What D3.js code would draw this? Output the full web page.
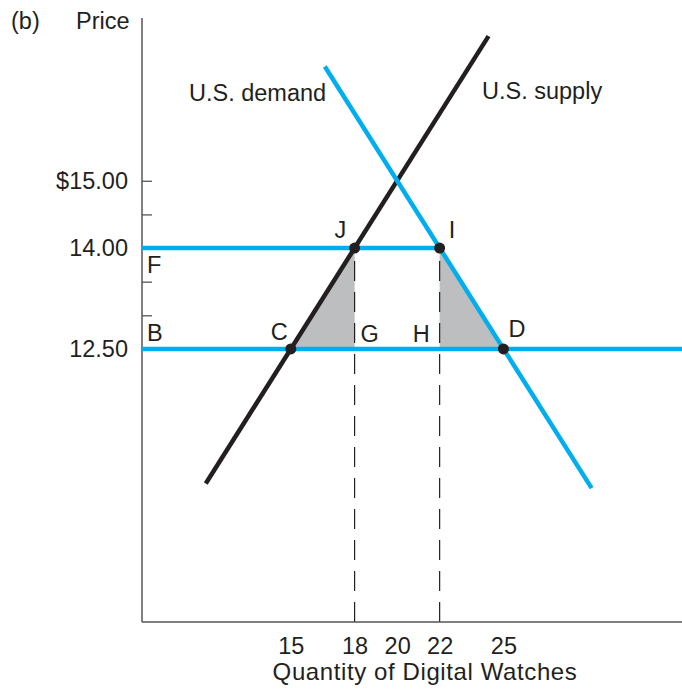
<!DOCTYPE html>
<html>
<head>
<meta charset="utf-8">
<script src="https://cdn.jsdelivr.net/npm/d3@7"></script>
<style>
  html, body { margin: 0; padding: 0; background: #fff; }
  svg text { font-family: "Liberation Sans", Arial, Helvetica, sans-serif; fill: #231f20; }
</style>
</head>
<body>
<svg id="chart" width="682" height="690"></svg>
<script>
// ---- data ----
const priceTicks = [15, 14.5, 14, 13.5, 13, 12.5];
const priceTickLabels = { 15: "$15.00", 14: "14.00", 12.5: "12.50" };
const quantityTicks = [15, 18, 20, 22, 25];
const supplyLine = [[11, 10.5], [24.3, 17.15]];
const demandLine = [[16.6, 16.7], [29.15, 10.43]];
const worldPrice = 12.5;
const tariffPrice = 14;
const tariffLineEndQ = 22;
const pointNames = ["C", "J", "I", "D"];
const pointQ = [15, 18, 22, 25];
const pointP = [12.5, 14, 14, 12.5];
const lossTriangles = [
  [[15, 12.5], [18, 14], [18, 12.5]],
  [[22, 12.5], [22, 14], [25, 12.5]]
];
const dashedQ = [18, 22];
const extraLabels = ["F", "B", "G", "H"];

// ---- layout ----
const x = d3.scaleLinear().domain([8, 33.4]).range([142, 682]);
const y = d3.scaleLinear().domain([8.44, 17.42]).range([622, 18]);
const BLUE = "#00aeef", BLACK = "#231f20", GRAY = "#bcbec0", AXIS = "#555";
const FS = 23.5;

const svg = d3.select("#chart");

// triangles
svg.selectAll("path.tri").data(lossTriangles).enter().append("path")
  .attr("d", t => "M" + t.map(p => x(p[0]) + "," + y(p[1])).join("L") + "Z")
  .attr("fill", GRAY);

// dashed verticals (drawn from axis upward so a dash sits on the axis)
svg.selectAll("line.dash").data(dashedQ).enter().append("line")
  .attr("x1", d => x(d)).attr("x2", d => x(d))
  .attr("y1", y.range()[0]).attr("y2", y(tariffPrice))
  .attr("stroke", BLACK).attr("stroke-width", 1.2)
  .attr("stroke-dasharray", "20,11");

// axes
const yAxis = d3.axisRight(y).tickValues(priceTicks).tickSize(10).tickFormat("");
const gy = svg.append("g").attr("transform", "translate(142,0)").call(yAxis);
gy.select(".domain").attr("d", `M0,${y.range()[1]}V${y.range()[0]}`).attr("stroke", AXIS).attr("stroke-width", 1.5);
gy.selectAll(".tick line").attr("stroke", AXIS).attr("stroke-width", 1.3);

const xAxis = d3.axisBottom(x).tickValues(quantityTicks).tickSize(0).tickPadding(27);
const gx = svg.append("g").attr("transform", `translate(0,${y.range()[0]})`).call(xAxis);
gx.select(".domain").attr("d", `M${x.range()[0]},0H${x.range()[1]}`).attr("stroke", AXIS).attr("stroke-width", 1.5);
gx.selectAll(".tick text").attr("font-size", FS).attr("font-family", null).attr("fill", null).attr("dy", "0.2em");

// y tick labels
svg.selectAll("text.ylab").data(Object.keys(priceTickLabels).map(Number)).enter().append("text")
  .attr("x", 128).attr("y", d => y(d)).attr("dy", "0.36em")
  .attr("text-anchor", "end").attr("font-size", FS)
  .text(d => priceTickLabels[d]);

// price lines
const line = d3.line().x(d => x(d[0])).y(d => y(d[1]));
svg.append("path").attr("d", line([[x.domain()[0], tariffPrice], [tariffLineEndQ, tariffPrice]]))
  .attr("stroke", BLUE).attr("stroke-width", 4.5).attr("fill", "none");
svg.append("path").attr("d", line([[x.domain()[0], worldPrice], [x.domain()[1], worldPrice]]))
  .attr("stroke", BLUE).attr("stroke-width", 4.5).attr("fill", "none");

// supply & demand
svg.append("path").attr("d", line(supplyLine))
  .attr("stroke", BLACK).attr("stroke-width", 4.5).attr("fill", "none");
svg.append("path").attr("d", line(demandLine))
  .attr("stroke", BLUE).attr("stroke-width", 4.5).attr("fill", "none");

// points
svg.selectAll("circle.pt").data(pointNames).enter().append("circle")
  .attr("cx", (d, i) => x(pointQ[i])).attr("cy", (d, i) => y(pointP[i]))
  .attr("r", 5.5).attr("fill", BLACK);

// point labels (offsets in px relative to point)
const ptOffset = { C: [-20, -9], J: [-20, -10], I: [9, -10], D: [5, -12] };
svg.selectAll("text.ptlab").data(pointNames).enter().append("text")
  .attr("x", (d, i) => x(pointQ[i]) + ptOffset[d][0])
  .attr("y", (d, i) => y(pointP[i]) + ptOffset[d][1])
  .attr("font-size", FS).text(d => d);

// other letters
const extraPos = {
  F: [x.domain()[0], tariffPrice, 5, 25],
  B: [x.domain()[0], worldPrice, 5, -8],
  G: [18, worldPrice, 6, -7],
  H: [22, worldPrice, -27, -7]
};
svg.selectAll("text.extra").data(extraLabels).enter().append("text")
  .attr("x", d => x(extraPos[d][0]) + extraPos[d][2])
  .attr("y", d => y(extraPos[d][1]) + extraPos[d][3])
  .attr("font-size", FS).text(d => d);

// curve labels
svg.append("text").attr("x", 189).attr("y", 101).attr("font-size", FS).text("U.S. demand");
svg.append("text").attr("x", 482).attr("y", 99).attr("font-size", FS).text("U.S. supply");

// titles
svg.append("text").attr("x", 11).attr("y", 29).attr("font-size", FS).text("(b)");
svg.append("text").attr("x", 76).attr("y", 29).attr("font-size", FS).text("Price");
svg.append("text").attr("x", 425).attr("y", 680)
  .attr("text-anchor", "middle").attr("font-size", 24).attr("letter-spacing", 0.6)
  .text("Quantity of Digital Watches");
</script>
</body>
</html>
